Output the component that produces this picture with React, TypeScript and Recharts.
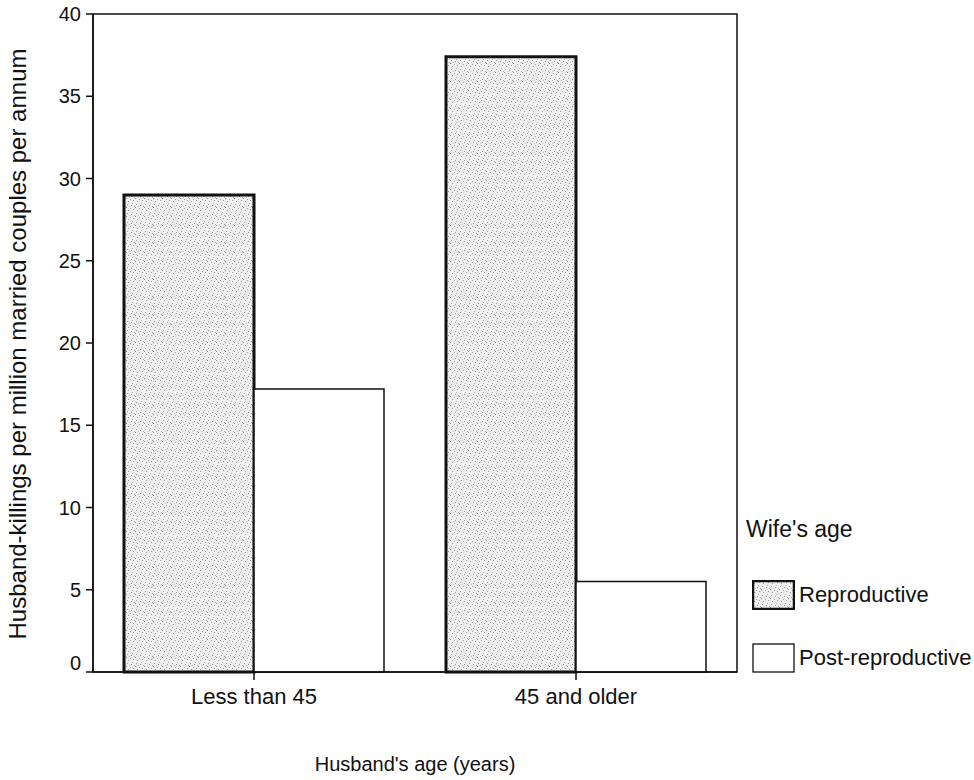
import React from 'react';
import { BarChart, Bar, XAxis, YAxis, Legend, Label, ReferenceArea } from 'recharts';

const categories = ['Less than 45', '45 and older'];
const reproductive = [29, 37.4];
const postReproductive = [17.2, 5.5];
const yTicks = [0, 5, 10, 15, 20, 25, 30, 35, 40];
const seriesNames = ['Reproductive', 'Post-reproductive'];

const data = categories.map((name, i) => ({
  name,
  reproductive: reproductive[i],
  post: postReproductive[i],
}));

const FONT = '"Liberation Sans", Arial, sans-serif';

function WifeLegend(props: any) {
  const items = [...(props.payload || [])].sort(
    (a: any, b: any) => seriesNames.indexOf(a.value) - seriesNames.indexOf(b.value)
  );
  // zero-size box so the legend does not shrink the plot
  return (
    <div style={{ position: 'relative', width: 0, height: 0, overflow: 'visible', fontFamily: FONT, color: '#111' }}>
      <div style={{ position: 'absolute', left: 0, top: 6, fontSize: 23, whiteSpace: 'nowrap' }}>Wife's age</div>
      {items.map((it: any, i: number) => (
        <div
          key={it.value}
          style={{ position: 'absolute', left: 6, top: 70 + i * 63, display: 'flex', alignItems: 'center', whiteSpace: 'nowrap' }}
        >
          <svg width={43} height={30} style={{ flex: 'none' }}>
            <rect
              x={1}
              y={1}
              width={41}
              height={28}
              fill={i === 0 ? 'url(#stipple)' : '#fff'}
              stroke="#111"
              strokeWidth={i === 0 ? 2.5 : 1.3}
            />
          </svg>
          <span style={{ marginLeft: 4, fontSize: 22 }}>{it.value}</span>
        </div>
      ))}
    </div>
  );
}

// the 0 label sits a little above its tick in the original
function YTick(props: any) {
  const { x, y, payload } = props;
  const lift = payload.value === 0 ? -9 : 0;
  return (
    <text x={x} y={y + lift} dy="0.35em" textAnchor="end" fontSize={20} fill="#111" fontFamily={FONT}>
      {payload.value}
    </text>
  );
}

export default function App() {
  return (
    <div style={{ position: 'absolute', left: 0, top: 0, background: '#fff', fontFamily: FONT }}>
      <BarChart
        width={974}
        height={780}
        data={data}
        margin={{ top: 14, right: 237, left: 0, bottom: 0 }}
        barCategoryGap={31}
        barGap={0}
      >
        <defs>
          <pattern id="stipple" width="9" height="9" patternUnits="userSpaceOnUse">
            <rect width="9" height="9" fill="#efefef" />
            <rect x="0" y="0" width="1" height="1" fill="#8c8c8c" />
            <rect x="4" y="1" width="1" height="1" fill="#a5a5a5" />
            <rect x="7" y="2" width="1" height="1" fill="#9a9a9a" />
            <rect x="2" y="3" width="1" height="1" fill="#999" />
            <rect x="6" y="5" width="1" height="1" fill="#b0b0b0" />
            <rect x="1" y="6" width="1" height="1" fill="#a0a0a0" />
            <rect x="5" y="7" width="1" height="1" fill="#909090" />
            <rect x="8" y="8" width="1" height="1" fill="#a8a8a8" />
            <rect x="3" y="8" width="1" height="1" fill="#c4c4c4" />
          </pattern>
        </defs>
        <XAxis
          dataKey="name"
          axisLine={{ stroke: '#111', strokeWidth: 1.5 }}
          tickLine={{ stroke: '#111', strokeWidth: 1.5 }}
          tickSize={8}
          tickMargin={8}
          height={108}
          tick={{ fontSize: 22, fill: '#111', fontFamily: FONT }}
        >
          <Label
            value="Husband's age (years)"
            content={(p: any) => {
              const vb = p.viewBox;
              return (
                <text x={vb.x + vb.width / 2} y={771} textAnchor="middle" fontSize={20} fill="#111" fontFamily={FONT}>
                  Husband's age (years)
                </text>
              );
            }}
          />
        </XAxis>
        <YAxis
          domain={[0, 40]}
          ticks={yTicks}
          width={93}
          axisLine={{ stroke: '#111', strokeWidth: 1.5 }}
          tickLine={{ stroke: '#111', strokeWidth: 1.5 }}
          tickSize={7}
          tickMargin={5}
          tick={<YTick />}
        >
          <Label
            value="Husband-killings per million married couples per annum"
            content={() => (
              <text
                x={26}
                y={344}
                textAnchor="middle"
                fontSize={24}
                fill="#111"
                fontFamily={FONT}
                transform="rotate(-90 26 344)"
              >
                Husband-killings per million married couples per annum
              </text>
            )}
          />
        </YAxis>
        <ReferenceArea y1={0} y2={40} fill="none" stroke="#111" strokeWidth={1.5} ifOverflow="visible" />
        <Legend content={<WifeLegend />} wrapperStyle={{ position: 'absolute', left: 746, top: 510, width: 0, height: 0 }} />
        <Bar dataKey="reproductive" name="Reproductive" fill="url(#stipple)" stroke="#111" strokeWidth={3} isAnimationActive={false} />
        <Bar dataKey="post" name="Post-reproductive" fill="#fff" stroke="#111" strokeWidth={1.5} isAnimationActive={false} />
      </BarChart>
    </div>
  );
}
